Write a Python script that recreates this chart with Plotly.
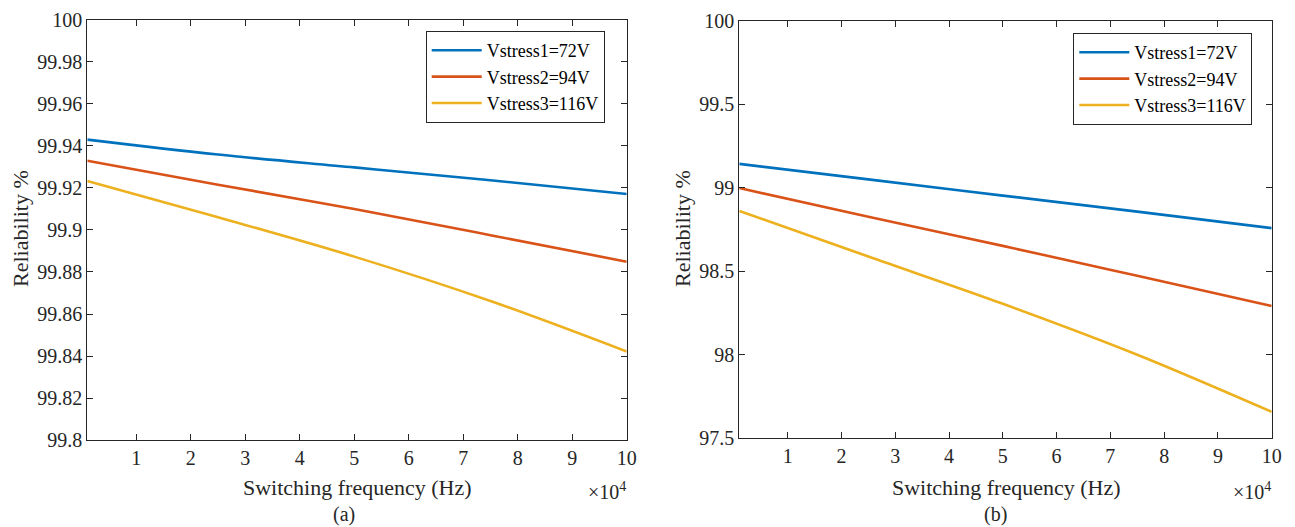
import plotly.graph_objects as go

# The page body has an 8px margin, so the figure is drawn 8px in from the top-left.
OFF = 8
W, H = 1295 - OFF, 527 - OFF

# Data (switching frequency in Hz, reliability in %)
freq = [1000, 25000, 50000, 75000, 100000]

rel_a_v1 = [99.9429, 99.9358, 99.9297, 99.9236, 99.9171]
rel_a_v2 = [99.9329, 99.9215, 99.9099, 99.8975, 99.8849]
rel_a_v3 = [99.9233, 99.9060, 99.8873, 99.8662, 99.8422]

rel_b_v1 = [99.143, 99.050, 98.953, 98.857, 98.758]
rel_b_v2 = [98.998, 98.826, 98.652, 98.473, 98.292]
rel_b_v3 = [98.861, 98.588, 98.305, 98.000, 97.658]

series_names = ["Vstress1=72V", "Vstress2=94V", "Vstress3=116V"]
colors = ["#0072BD", "#D95319", "#EDB120"]

x_tickvals = [10000, 20000, 30000, 40000, 50000, 60000, 70000, 80000, 90000, 100000]
x_ticktext = ["1", "2", "3", "4", "5", "6", "7", "8", "9", "10"]
ya_tickvals = [99.8, 99.82, 99.84, 99.86, 99.88, 99.9, 99.92, 99.94, 99.96, 99.98, 100]
ya_ticktext = ["99.8", "99.82", "99.84", "99.86", "99.88", "99.9", "99.92", "99.94", "99.96", "99.98", "100"]
yb_tickvals = [97.5, 98, 98.5, 99, 99.5, 100]
yb_ticktext = ["97.5", "98", "98.5", "99", "99.5", "100"]

FONT = "Liberation Serif, Times New Roman, serif"
AX = "#262626"

fig = go.Figure()

for ys, name, c in zip([rel_a_v1, rel_a_v2, rel_a_v3], series_names, colors):
    fig.add_trace(go.Scatter(x=freq, y=ys, name=name, mode="lines",
                             line=dict(color=c, width=2.6, shape="spline", smoothing=1.0),
                             xaxis="x", yaxis="y", legend="legend"))
for ys, name, c in zip([rel_b_v1, rel_b_v2, rel_b_v3], series_names, colors):
    fig.add_trace(go.Scatter(x=freq, y=ys, name=name, mode="lines",
                             line=dict(color=c, width=2.6, shape="spline", smoothing=1.0),
                             xaxis="x2", yaxis="y2", legend="legend2"))

def px_x(p):
    return (p - OFF) / W

def px_y(p):
    return 1 - (p - OFF) / H

common_axis = dict(showline=True, linecolor=AX, linewidth=1.2, mirror="allticks",
                   ticks="inside", ticklen=6, tickcolor=AX, tickwidth=1,
                   showgrid=False, zeroline=False, automargin=False,
                   tickfont=dict(family=FONT, size=20, color=AX))

fig.update_layout(
    width=W, height=H,
    margin=dict(l=0, r=0, t=0, b=0, autoexpand=False),
    paper_bgcolor="white", plot_bgcolor="white",
    font=dict(family=FONT, size=19, color=AX),
    xaxis=dict(domain=[px_x(87.3), px_x(626.7)], range=[1000, 100000],
               tickvals=x_tickvals, ticktext=x_ticktext, anchor="y", **common_axis),
    yaxis=dict(domain=[px_y(440.3), px_y(19.5)], range=[99.8, 100],
               tickvals=ya_tickvals, ticktext=ya_ticktext, anchor="x", **common_axis),
    xaxis2=dict(domain=[px_x(739.3), px_x(1271.7)], range=[1000, 100000],
                tickvals=x_tickvals, ticktext=x_ticktext, anchor="y2", **common_axis),
    yaxis2=dict(domain=[px_y(438.3), px_y(20.7)], range=[97.5, 100],
                tickvals=yb_tickvals, ticktext=yb_ticktext, anchor="x2", **common_axis),
    legend=dict(x=px_x(425.7), y=px_y(31), xanchor="left", yanchor="top",
                bgcolor="white", bordercolor=AX, borderwidth=1,
                font=dict(family=FONT, size=18, color="black"), itemwidth=50,
                tracegroupgap=0),
    legend2=dict(x=px_x(1073.3), y=px_y(33), xanchor="left", yanchor="top",
                 bgcolor="white", bordercolor=AX, borderwidth=1,
                 font=dict(family=FONT, size=18, color="black"), itemwidth=50,
                 tracegroupgap=0),
    showlegend=True,
)

annots = [
    ("Switching frequency (Hz)", 357, 487, "center", 0, 22),
    ("Switching frequency (Hz)", 1005.5, 487, "center", 0, 22),
    ("×10<sup>4</sup>", 628, 491, "right", 0, 20),
    ("×10<sup>4</sup>", 1273, 491, "right", 0, 20),
    ("(a)", 344, 514, "center", 0, 20),
    ("(b)", 996, 514, "center", 0, 20),
    ("Reliability %", 20, 229, "center", -90, 22),
    ("Reliability %", 682, 229, "center", -90, 22),
]
for text, x, y, xa, ang, sz in annots:
    fig.add_annotation(text=text, x=px_x(x), y=px_y(y), xref="paper", yref="paper",
                       xanchor=xa, yanchor="middle", showarrow=False, textangle=ang,
                       font=dict(family=FONT, size=sz, color=AX))

fig.write_html("out.html")
